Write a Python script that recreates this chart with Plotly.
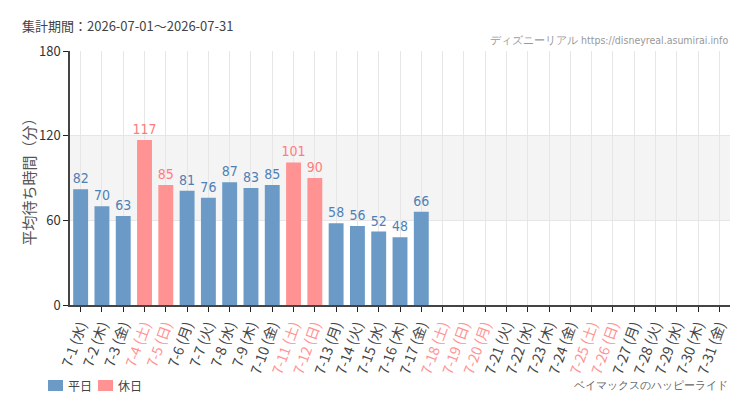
import plotly.graph_objects as go

dates = [f"7-{d}" for d in range(1, 32)]
weekdays = (["水", "木", "金", "土", "日", "月", "火"] * 5)[:31]
holidays = {"7-4", "7-5", "7-11", "7-12", "7-18", "7-19", "7-20", "7-25", "7-26"}
values = [82, 70, 63, 117, 85, 81, 76, 87, 83, 85, 101, 90, 58, 56, 52, 48, 66]
yticks = [0, 60, 120, 180]
legend_names = ["平日", "休日"]

BLUE = "#6b9ac7"
BLUE_T = "#4f80b5"
PINK = "#ff9292"
PINK_T = "#ff7c7c"
JP = "Noto Sans CJK JP, Noto Sans, sans-serif"
COND = "DejaVu Sans Condensed, DejaVu Sans, sans-serif"

W, H = 750, 410
ML, MR, MT, MB = 70, 20, 51, 105
PW, PH = W - ML - MR, H - MT - MB


def px(x):
    return (x - ML) / PW


def py(y):
    return (H - MB - y) / PH


ticktext = []
for d, w in zip(dates, weekdays):
    t = f"{d} ({w})"
    if d in holidays:
        t = f"<span style='color:{PINK}'>{t}</span>"
    ticktext.append(t)

wk_x, wk_y, ho_x, ho_y = [], [], [], []
for i, v in enumerate(values):
    if dates[i] in holidays:
        ho_x.append(dates[i]); ho_y.append(v)
    else:
        wk_x.append(dates[i]); wk_y.append(v)

fig = go.Figure()
fig.add_trace(go.Bar(x=wk_x, y=wk_y, name=legend_names[0], marker=dict(color=BLUE, line=dict(width=0)),
                     width=0.7, text=[str(v) for v in wk_y], textposition="outside",
                     constraintext="none", showlegend=False,
                     textfont=dict(color=BLUE_T, size=14, family=COND), cliponaxis=False))
fig.add_trace(go.Bar(x=ho_x, y=ho_y, name=legend_names[1], marker=dict(color=PINK, line=dict(width=0)),
                     width=0.7, text=[str(v) for v in ho_y], textposition="outside",
                     constraintext="none", showlegend=False,
                     textfont=dict(color=PINK_T, size=14, family=COND), cliponaxis=False))

fig.add_shape(type="rect", xref="paper", yref="y", x0=0, x1=1, y0=60, y1=120,
              fillcolor="#f4f4f4", line=dict(width=0), layer="below")

# manual legend (bottom-left)
annotations = []
for i, (name, col) in enumerate(zip(legend_names, [BLUE, PINK])):
    x0 = 48 + i * 50
    fig.add_shape(type="rect", xref="paper", yref="paper", x0=px(x0), x1=px(x0 + 15),
                  y0=py(391), y1=py(380), fillcolor=col, line=dict(width=0))
    annotations.append(dict(text=name, xref="paper", yref="paper", x=px(x0 + 18), y=py(386),
                            xanchor="left", yanchor="middle", showarrow=False,
                            font=dict(size=12, color="#444", family=JP)))

annotations += [
    dict(text="集計期間：2026-07-01～2026-07-31", xref="paper", yref="paper",
         x=px(20), y=py(26), xanchor="left", yanchor="middle", showarrow=False,
         font=dict(size=13, color="#444", family=JP)),
    dict(text="ディズニーリアル https://disneyreal.asumirai.info", xref="paper", yref="paper",
         x=px(730), y=py(40), xanchor="right", yanchor="middle", showarrow=False,
         font=dict(size=10.5, color="#999", family=COND)),
    dict(text="ベイマックスのハッピーライド", xref="paper", yref="paper",
         x=px(730), y=py(385), xanchor="right", yanchor="middle", showarrow=False,
         font=dict(size=10.5, color="#666", family=COND)),
]

fig.update_layout(
    width=W, height=H,
    margin=dict(l=ML, r=MR, t=MT, b=MB),
    paper_bgcolor="white", plot_bgcolor="white",
    barmode="overlay", bargap=0.3,
    font=dict(family=JP, color="#444", size=13),
    showlegend=False,
    xaxis=dict(type="category", categoryorder="array", categoryarray=dates,
               tickmode="array", tickvals=dates, ticktext=ticktext, tickangle=-70,
               range=[-0.5, 30.5], showgrid=True, gridcolor="#e6e6e6", automargin=False,
               showline=True, linecolor="#444", linewidth=1.5,
               ticks="outside", ticklen=5, tickcolor="#222",
               tickfont=dict(size=14, color="#444", family=JP)),
    yaxis=dict(range=[0, 180], tickvals=yticks, showgrid=True, gridcolor="#e6e6e6",
               showline=True, linecolor="#444", linewidth=1.5, zeroline=False, automargin=False,
               ticks="outside", ticklen=5, tickcolor="#222",
               tickfont=dict(size=13, color="#333"),
               title=dict(text="平均待ち時間（分）", font=dict(size=15, color="#555"), standoff=0)),
    annotations=annotations,
)

fig.write_html("out.html")
